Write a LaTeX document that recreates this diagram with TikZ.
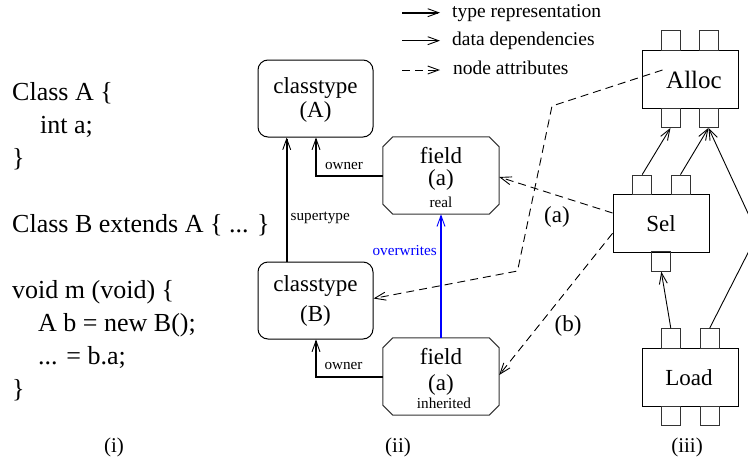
\documentclass[tikz,border=0pt]{standalone}
\usepackage{fontspec}
\setmainfont{Liberation Serif}
\usetikzlibrary{arrows.meta,calc}
\newcommand\fieldoct[1]{%
  \draw[boxline] ($(#1.north west)+(10,0)$) -- ($(#1.north east)+(-10,0)$) -- ($(#1.north east)+(0,10)$)
   -- ($(#1.south east)+(0,-10)$) -- ($(#1.south east)+(-10,0)$) -- ($(#1.south west)+(10,0)$)
   -- ($(#1.south west)+(0,-10)$) -- ($(#1.north west)+(0,10)$) -- cycle;}
\begin{document}
\begin{tikzpicture}[x=1pt,y=-1pt,
  code/.style={anchor=base west,inner sep=0pt,font=\fontsize{26}{30}\selectfont},
  lbl/.style={inner sep=0pt,font=\fontsize{23}{26}\selectfont},
  leg/.style={anchor=base west,inner sep=0pt,font=\fontsize{19.5}{22}\selectfont},
  small/.style={inner sep=0pt,font=\fontsize{15.2}{17}\selectfont},
  boxline/.style={line width=1pt,draw=black!80},
  ctype/.style={draw,line width=1pt,rounded corners=10pt,minimum width=115pt,minimum height=77pt,inner sep=0pt},
  fieldbox/.style={minimum width=116pt,minimum height=77pt,inner sep=0pt},
  opbox/.style={draw,minimum width=96pt,minimum height=58pt,inner sep=0pt,line width=0.9pt},
  port/.style={draw,draw=black!80,minimum width=19pt,minimum height=19.5pt,inner sep=0pt,line width=0.9pt},
  tip/.style={-{Straight Barb[length=11pt,width=8pt,line width=0.9pt]}},
  typ/.style={line width=2pt,tip},
  dep/.style={line width=0.9pt,tip},
  attr/.style={line width=0.9pt,dash pattern=on 8pt off 5pt,tip},
  ovw/.style={line width=2pt,draw=blue,-{Straight Barb[length=11pt,width=8pt,line width=0.9pt]}}]
\useasboundingbox (0,0) rectangle (748,461);
\clip (0,0) rectangle (748,461);
% code
\node[code] (c1) at (12,100) {Class A \{};
\node[code] (c2) at (40,133) {int a;};
\node[code] (c3) at (12,166) {\}};
\node[code] (c4) at (12,232) {Class B extends A \{ ... \}};
\node[code] (c5) at (12,298) {void m (void) \{};
\node[code] (c6) at (38,331) {A b = new B();};
\node[code] (c7) at (38,364) {... = b.a;};
\node[code] (c8) at (12,397) {\}};
\node[lbl,font=\fontsize{21}{24}\selectfont] (i) at (114,447) {(i)};
\node[lbl,font=\fontsize{21}{24}\selectfont] (ii) at (398,447) {(ii)};
\node[lbl,font=\fontsize{21}{24}\selectfont] (iii) at (687,447) {(iii)};
% legend
\coordinate (l1a) at (402,12.7); \coordinate (l1b) at (440,12.7);
\coordinate (l2a) at (402,40.7); \coordinate (l2b) at (440,40.7);
\coordinate (l3a) at (402,70); \coordinate (l3b) at (440,70);
\draw[typ] (l1a) -- (l1b);
\draw[dep] (l2a) -- (l2b);
\draw[attr] (l3a) -- (l3b);
\node[leg] (t1) at (452,17.5) {type representation};
\node[leg] (t2) at (452,45.5) {data dependencies};
\node[leg] (t3) at (453,74.5) {node attributes};
% classtypes
\node[ctype] (A) at (315.5,98.5) {};
\node[lbl] (Aa) at (315.5,88) {classtype};
\node[lbl] (Ab) at (315.5,112) {(A)};
\node[ctype] (B) at (315.5,300.5) {};
\node[lbl] (Ba) at (315.5,286) {classtype};
\node[lbl] (Bb) at (315.5,316) {(B)};
% fields
\node[fieldbox] (F1) at (441,175.5) {};
\fieldoct{F1}
\node[lbl,anchor=base] (F1a) at (441,163) {field};
\node[lbl,anchor=base] (F1b) at (441,185) {(a)};
\node[small,anchor=base] (F1c) at (441,207) {real};
\node[fieldbox] (F2) at (441,376.5) {};
\fieldoct{F2}
\node[lbl,anchor=base] (F2a) at (441,364) {field};
\node[lbl,anchor=base] (F2b) at (441,390) {(a)};
\node[small,anchor=base] (F2c) at (444,408) {inherited};
% type edges
\draw[typ] (B.north -| 286.7,0) -- (A.south -| 286.7,0);
\node[small,anchor=west] (sup) at (290.5,218) {supertype};
\draw[typ] (F1.west) -| (A.south -| 316,0);
\node[small] (ow1) at (344,166) {owner};
\draw[typ] (F2.west) -| (B.south -| 316,0);
\node[small] (ow2) at (343.5,366) {owner};
\draw[ovw] (F2.north) -- (F1.south);
\node[small,text=blue,anchor=east] (ovt) at (437,250.5) {overwrites};
% operation nodes
\node[opbox] (Alloc) at (690.2,79) {};
\node[lbl,font=\fontsize{25}{28}\selectfont] (Allt) at (694,80) {Alloc};
\node[port] (Ai1) at (670.5,40.5) {};
\node[port] (Ai2) at (708.5,40.5) {};
\node[port] (Ao1) at (670.5,117.7) {};
\node[port] (Ao2) at (708.5,117.7) {};
\node[opbox] (Sel) at (661,223) {};
\node[lbl] (Selt) at (661,223.5) {Sel};
\node[port] (Si1) at (642.2,184.8) {};
\node[port] (Si2) at (680.5,184.8) {};
\node[port] (So) at (661.3,261.5) {};
\node[opbox] (Load) at (690,377) {};
\node[lbl] (Loadt) at (689,378) {Load};
\node[port] (Li1) at (670.8,338.3) {};
\node[port] (Li2) at (709.7,338.3) {};
\node[port] (Lo1) at (670.8,415.7) {};
\node[port] (Lo2) at (709.7,415.7) {};
% data deps
\draw[dep] (Si1.north) -- (Ao1.south);
\draw[dep] (Si2.north) -- (Ao2.south);
\coordinate (peak) at (757.6,234);
\draw[dep] (Li2.north) -- (peak) -- (Ao2.south);
\draw[dep] (Li1.north) -- (So.south);
% attributes
\coordinate (as) at (662.5,70);
\coordinate (ab1) at (552,106);
\coordinate (ab2) at (517.5,271);
\draw[attr] (as) -- (ab1) -- (ab2) -- (B.east |- 0,298.5);
\draw[attr] (Sel.west |- 0,213) -- (F1.east |- 0,177);
\draw[attr] (Sel.west |- 0,233.3) -- (F2.east |- 0,375);
\node[lbl] (la) at (557,216.7) {(a)};
\node[lbl] (lb) at (568,326) {(b)};
\end{tikzpicture}
\end{document}
